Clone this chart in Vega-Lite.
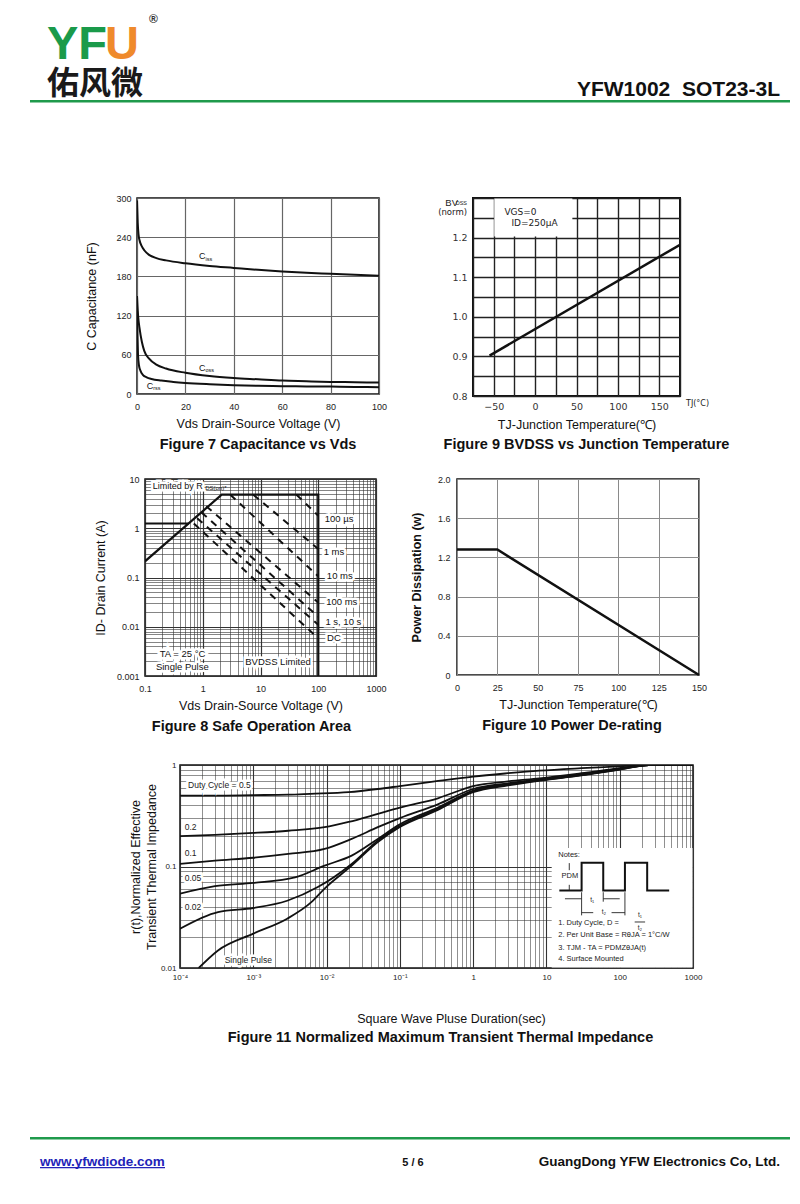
{
"$schema": "https://vega.github.io/schema/vega-lite/v6.json",
"background": "white",
"padding": {"left": 30, "top": 0, "right": 10, "bottom": 30},
"spacing": 0,
"config": {
  "font": "Liberation Sans",
  "view": {"stroke": null},
  "axis": {"ticks": false, "domain": false, "labelFont": "Liberation Sans", "labelColor": "#222", "labelFontSize": 9, "titleFont": "Liberation Sans", "titleFontWeight": "normal", "titleColor": "#111", "titleFontSize": 12.5, "labelFlush": false, "labelOverlap": false, "gridOpacity": 1, "labelBound": false},
  "title": {"font": "Liberation Sans", "color": "#111"}
},
"vconcat": [
  {"hconcat": [
    {"width": 17, "height": 1, "data": {"values": [{}]}, "mark": {"type": "point", "opacity": 0, "size": 0}, "encoding": {}},
    {"width": 58, "height": 22, "data": {"values": [{}]}, "mark": {"type": "point", "opacity": 0, "size": 0}, "encoding": {},
     "title": {"text": "YF", "subtitle": "佑风微", "orient": "bottom", "anchor": "start", "offset": 0, "font": "Liberation Sans Narrow, Liberation Sans", "fontSize": 47, "fontWeight": "bold", "color": "#1a9a4a", "subtitleFont": "Noto Sans CJK SC", "subtitleFontSize": 32, "subtitleFontWeight": "bold", "subtitleColor": "#1a1a1a", "subtitlePadding": 0}},
    {"width": 45, "height": 22, "data": {"values": [{}]}, "mark": {"type": "point", "opacity": 0, "size": 0}, "encoding": {},
     "title": {"text": "U", "orient": "bottom", "anchor": "start", "offset": 0, "font": "Liberation Sans", "fontSize": 47, "fontWeight": "bold", "color": "#ef8a2c"}},
    {"width": 10, "height": 14, "data": {"values": [{}]}, "mark": {"type": "point", "opacity": 0, "size": 0}, "encoding": {},
     "title": {"text": "®", "orient": "bottom", "anchor": "start", "offset": 0, "fontSize": 12, "color": "#333", "dx": -1}},
    {"width": 630, "height": 79, "data": {"values": [{}]}, "mark": {"type": "point", "opacity": 0, "size": 0}, "encoding": {},
     "title": {"text": "YFW1002\u00a0 SOT23-3L", "orient": "bottom", "anchor": "end", "offset": 0, "fontSize": 21, "fontWeight": "bold", "color": "#111", "dx": -10}}
  ], "spacing": 0, "bounds": "flush"},
  {"width": 760, "height": 2.5, "view": {"fill": "#1f9a4c", "stroke": null}, "data": {"values": [{}]}, "mark": {"type": "point", "opacity": 0, "size": 0}, "encoding": {}},
  {"width": 1, "height": 80, "data": {"values": [{}]}, "mark": {"type": "point", "opacity": 0, "size": 0}, "encoding": {}},
  {"hconcat": [
    {"width": 107, "height": 1, "data": {"values": [{}]}, "mark": {"type": "point", "opacity": 0, "size": 0}, "encoding": {}},
    {
      "width": 242, "height": 196,
      "view": {"stroke": "#111", "strokeWidth": 1.5},
      "title": {"text": "Figure 7 Capacitance vs Vds", "orient": "bottom", "frame": "group", "anchor": "middle", "offset": 8, "fontSize": 14.5, "fontWeight": "bold"},
      "encoding": {
        "x": {"field": "v", "type": "quantitative", "scale": {"domain": [0, 100], "nice": false}, "axis": {"values": [0, 20, 40, 60, 80, 100], "grid": true, "gridColor": "#666", "gridWidth": 1.2, "labelPadding": 8, "minExtent": 16, "maxExtent": 16, "title": "Vds Drain-Source Voltage (V)", "titlePadding": 7}},
        "y": {"field": "c", "type": "quantitative", "scale": {"domain": [0, 300], "nice": false}, "axis": {"values": [0, 60, 120, 180, 240, 300], "grid": true, "gridColor": "#666", "gridWidth": 1.2, "labelPadding": 6, "minExtent": 22, "maxExtent": 22, "title": "C Capacitance (nF)", "titlePadding": 17}}
      },
      "layer": [
        {"data": {"values": [{"v": 0, "c": 300, "label": "."}]}, "mark": {"type": "text", "align": "left", "baseline": "bottom", "fontSize": 14, "opacity": 0}, "encoding": {"text": {"field": "label"}}},
        {"data": {"values": [
          {"s": "iss", "v": 0, "c": 296}, {"s": "iss", "v": 0.3, "c": 262}, {"s": "iss", "v": 0.6, "c": 245}, {"s": "iss", "v": 1, "c": 236}, {"s": "iss", "v": 2, "c": 226}, {"s": "iss", "v": 3, "c": 220}, {"s": "iss", "v": 5, "c": 213}, {"s": "iss", "v": 8, "c": 208}, {"s": "iss", "v": 12, "c": 204.5}, {"s": "iss", "v": 20, "c": 200}, {"s": "iss", "v": 30, "c": 196}, {"s": "iss", "v": 40, "c": 193}, {"s": "iss", "v": 50, "c": 190}, {"s": "iss", "v": 60, "c": 187.5}, {"s": "iss", "v": 70, "c": 185.5}, {"s": "iss", "v": 80, "c": 184}, {"s": "iss", "v": 90, "c": 182.5}, {"s": "iss", "v": 100, "c": 181},
          {"s": "oss", "v": 0, "c": 150}, {"s": "oss", "v": 0.3, "c": 128}, {"s": "oss", "v": 0.6, "c": 114}, {"s": "oss", "v": 1, "c": 102}, {"s": "oss", "v": 2, "c": 80}, {"s": "oss", "v": 3, "c": 66}, {"s": "oss", "v": 5, "c": 54}, {"s": "oss", "v": 8, "c": 45}, {"s": "oss", "v": 12, "c": 39}, {"s": "oss", "v": 20, "c": 32.5}, {"s": "oss", "v": 30, "c": 27.5}, {"s": "oss", "v": 40, "c": 24.5}, {"s": "oss", "v": 50, "c": 22.5}, {"s": "oss", "v": 60, "c": 20.5}, {"s": "oss", "v": 70, "c": 19.5}, {"s": "oss", "v": 80, "c": 18.5}, {"s": "oss", "v": 90, "c": 18}, {"s": "oss", "v": 100, "c": 17.5},
          {"s": "rss", "v": 0, "c": 135}, {"s": "rss", "v": 0.2, "c": 90}, {"s": "rss", "v": 0.4, "c": 62}, {"s": "rss", "v": 0.8, "c": 44}, {"s": "rss", "v": 1.5, "c": 35}, {"s": "rss", "v": 2.5, "c": 29}, {"s": "rss", "v": 4, "c": 25.5}, {"s": "rss", "v": 6, "c": 23}, {"s": "rss", "v": 10, "c": 20.5}, {"s": "rss", "v": 15, "c": 18.5}, {"s": "rss", "v": 20, "c": 17}, {"s": "rss", "v": 30, "c": 15}, {"s": "rss", "v": 40, "c": 13.5}, {"s": "rss", "v": 50, "c": 12.5}, {"s": "rss", "v": 60, "c": 12}, {"s": "rss", "v": 70, "c": 11.6}, {"s": "rss", "v": 80, "c": 11.3}, {"s": "rss", "v": 90, "c": 10.8}, {"s": "rss", "v": 100, "c": 10.3}
        ]}, "mark": {"type": "line", "color": "#111", "strokeWidth": 2, "interpolate": "monotone", "clip": true}, "encoding": {"detail": {"field": "s"}}},
        {"data": {"values": [{"v": 25.6, "c": 211, "m": "C", "sub": "iss"}, {"v": 25.6, "c": 40, "m": "C", "sub": "oss"}, {"v": 4, "c": 13, "m": "C", "sub": "rss"}]},
         "mark": {"type": "text", "align": "left", "baseline": "middle", "fontSize": 9, "color": "#111"}, "encoding": {"text": {"field": "m"}}},
        {"data": {"values": [{"v": 25.6, "c": 211, "m": "C", "sub": "iss"}, {"v": 25.6, "c": 40, "m": "C", "sub": "oss"}, {"v": 4, "c": 13, "m": "C", "sub": "rss"}]},
         "mark": {"type": "text", "align": "left", "baseline": "middle", "fontSize": 5.5, "dx": 6.5, "dy": 2.5, "color": "#111"}, "encoding": {"text": {"field": "sub"}}}
      ]
    },
    {"width": 94, "height": 1, "data": {"values": [{}]}, "mark": {"type": "point", "opacity": 0, "size": 0}, "encoding": {}},
    {
      "width": 207, "height": 198,
      "view": {"stroke": "#111", "strokeWidth": 2},
      "title": {"text": "Figure 9 BVDSS vs Junction Temperature", "orient": "bottom", "frame": "group", "anchor": "middle", "offset": 7, "fontSize": 14.5, "fontWeight": "bold", "dx": 10},
      "encoding": {
        "x": {"field": "t", "type": "quantitative", "scale": {"domain": [-75, 175], "nice": false, "zero": false}, "axis": {"values": [-75, -50, -25, 0, 25, 50, 75, 100, 125, 150, 175], "labelExpr": "datum.value % 50 == 0 ? datum.label : ''", "grid": true, "gridColor": "#222", "gridWidth": 1.4, "labelFont": "DejaVu Sans", "labelFontSize": 9.5, "labelColor": "#333", "labelPadding": 5, "minExtent": 16, "maxExtent": 16, "title": "TJ-Junction Temperature(℃)", "titlePadding": 6}},
        "y": {"field": "b", "type": "quantitative", "scale": {"domain": [0.8, 1.3], "nice": false, "zero": false}, "axis": {"values": [0.8, 0.85, 0.9, 0.95, 1.0, 1.05, 1.1, 1.15, 1.2, 1.25, 1.3], "labelExpr": "(datum.value < 1.25 && abs(datum.value*10 - round(datum.value*10)) < 0.001) ? format(datum.value, '.1f') : ''", "grid": true, "gridColor": "#222", "gridWidth": 1.4, "labelFont": "DejaVu Sans", "labelFontSize": 9.5, "labelColor": "#333", "labelPadding": 6, "minExtent": 22, "maxExtent": 22, "title": null}}
      },
      "layer": [
        {"data": {"values": [{"t": -75, "b": 1.3, "label": "."}]}, "mark": {"type": "text", "align": "left", "baseline": "bottom", "fontSize": 10, "opacity": 0}, "encoding": {"text": {"field": "label"}}},
        {"data": {"values": [{"t": -49.3, "t2": 45, "b": 1.2025, "b2": 1.2985}]}, "mark": {"type": "rect", "color": "white"}, "encoding": {"x2": {"field": "t2"}, "y2": {"field": "b2"}}},
        {"data": {"values": [{"t": -55, "b": 0.902}, {"t": 175, "b": 1.182}]}, "mark": {"type": "line", "color": "#111", "strokeWidth": 2.5, "clip": true}, "encoding": {}},
        {"data": {"values": [{"t": -37, "b": 1.265, "label": "VGS=0"}, {"t": -28.6, "b": 1.2375, "label": "ID=250μA"}]}, "mark": {"type": "text", "align": "left", "baseline": "middle", "font": "DejaVu Sans", "fontSize": 9, "color": "#222"}, "encoding": {"text": {"field": "label"}}},
        {"data": {"values": [{"t": -75, "b": 1.3, "label": "BV"}]}, "mark": {"type": "text", "align": "right", "baseline": "top", "dx": -15, "dy": 0, "fontSize": 9.5, "color": "#222"}, "encoding": {"text": {"field": "label"}}},
        {"data": {"values": [{"t": -75, "b": 1.3, "label": "DSS"}]}, "mark": {"type": "text", "align": "right", "baseline": "top", "dx": -6, "dy": 3, "fontSize": 5.5, "color": "#222"}, "encoding": {"text": {"field": "label"}}},
        {"data": {"values": [{"t": -75, "b": 1.3, "label": "(norm)"}]}, "mark": {"type": "text", "align": "right", "baseline": "middle", "dx": -6, "dy": 14, "font": "DejaVu Sans", "fontSize": 8.5, "color": "#222"}, "encoding": {"text": {"field": "label"}}},
        {"data": {"values": [{"t": 175, "b": 0.8, "label": "TJ(°C)"}]}, "mark": {"type": "text", "align": "left", "baseline": "middle", "dx": 6, "dy": 8, "font": "DejaVu Sans", "fontSize": 8, "color": "#222"}, "encoding": {"text": {"field": "label"}}}
      ]
    }
  ], "spacing": 0, "bounds": "flush"},
  {"width": 1, "height": 16, "data": {"values": [{}]}, "mark": {"type": "point", "opacity": 0, "size": 0}, "encoding": {}},
  {"hconcat": [
    {"width": 115, "height": 1, "data": {"values": [{}]}, "mark": {"type": "point", "opacity": 0, "size": 0}, "encoding": {}},
    {
      "width": 231, "height": 197,
      "view": {"stroke": "#111", "strokeWidth": 1.5},
      "title": {"text": "Figure 8 Safe Operation Area", "orient": "bottom", "frame": "group", "anchor": "middle", "offset": 8, "fontSize": 14.5, "fontWeight": "bold", "dx": -9},
      "encoding": {
        "x": {"field": "v", "type": "quantitative", "scale": {"type": "log", "domain": [0.1, 1000], "nice": false}, "axis": {"values": [0.1, 0.2, 0.3, 0.4, 0.5, 0.6, 0.7, 0.8, 0.9, 1, 2, 3, 4, 5, 6, 7, 8, 9, 10, 20, 30, 40, 50, 60, 70, 80, 90, 100, 200, 300, 400, 500, 600, 700, 800, 900, 1000], "labelExpr": "abs(log(datum.value)/LN10 - round(log(datum.value)/LN10)) < 0.01 ? (datum.value < 0.5 ? '0.1' : datum.value < 5 ? '1' : datum.value < 50 ? '10' : datum.value < 500 ? '100' : '1000') : ''", "grid": true, "gridColor": "#333", "gridWidth": {"condition": {"test": "abs(log(datum.value)/LN10 - round(log(datum.value)/LN10)) < 0.01", "value": 1.2}, "value": 0.6}, "labelPadding": 8, "minExtent": 16, "maxExtent": 16, "title": "Vds Drain-Source Voltage (V)", "titlePadding": 7}},
        "y": {"field": "i", "type": "quantitative", "scale": {"type": "log", "domain": [0.001, 10], "nice": false}, "axis": {"values": [0.001, 0.002, 0.003, 0.004, 0.005, 0.006, 0.007, 0.008, 0.009, 0.01, 0.02, 0.03, 0.04, 0.05, 0.06, 0.07, 0.08, 0.09, 0.1, 0.2, 0.3, 0.4, 0.5, 0.6, 0.7, 0.8, 0.9, 1, 2, 3, 4, 5, 6, 7, 8, 9, 10], "labelExpr": "abs(log(datum.value)/LN10 - round(log(datum.value)/LN10)) < 0.01 ? (datum.value < 0.005 ? '0.001' : datum.value < 0.05 ? '0.01' : datum.value < 0.5 ? '0.1' : datum.value < 5 ? '1' : '10') : ''", "grid": true, "gridColor": "#333", "gridWidth": {"condition": {"test": "abs(log(datum.value)/LN10 - round(log(datum.value)/LN10)) < 0.01", "value": 1.2}, "value": 0.6}, "labelPadding": 6, "minExtent": 30, "maxExtent": 30, "title": "ID- Drain Current (A)", "titlePadding": 7.4}}
      },
      "layer": [
        {"data": {"values": [{"v": 0.1, "i": 10, "label": "."}]}, "mark": {"type": "text", "align": "left", "baseline": "bottom", "fontSize": 10, "opacity": 0}, "encoding": {"text": {"field": "label"}}},
        {"data": {"values": [{"s": "a", "o": 1, "v": 0.1, "i": 0.213}, {"s": "a", "o": 2, "v": 2.13, "i": 4.8}, {"s": "a", "o": 3, "v": 100, "i": 4.8}, {"s": "a", "o": 4, "v": 100, "i": 0.001}, {"s": "b", "o": 1, "v": 0.1, "i": 1.25}, {"s": "b", "o": 2, "v": 0.57, "i": 1.25}]},
         "mark": {"type": "line", "color": "#111", "strokeWidth": 2.2, "clip": true}, "encoding": {"detail": {"field": "s"}, "order": {"field": "o", "type": "quantitative"}}},
        {"data": {"values": [{"s": "d1", "v": 42, "i": 4.8}, {"s": "d1", "v": 100, "i": 1.8}, {"s": "d2", "v": 7.5, "i": 4.8}, {"s": "d2", "v": 100, "i": 0.38}, {"s": "d3", "v": 3.0, "i": 4.8}, {"s": "d3", "v": 100, "i": 0.106}, {"s": "d4", "v": 1.15, "i": 2.8}, {"s": "d4", "v": 100, "i": 0.031}, {"s": "d5", "v": 0.95, "i": 2.1}, {"s": "d5", "v": 100, "i": 0.016}, {"s": "d6", "v": 0.8, "i": 1.6}, {"s": "d6", "v": 100, "i": 0.011}, {"s": "d7", "v": 0.7, "i": 1.25}, {"s": "d7", "v": 100, "i": 0.0058}]},
         "mark": {"type": "line", "color": "#111", "strokeWidth": 2, "strokeDash": [7, 6], "clip": true}, "encoding": {"detail": {"field": "s"}}},
        {"data": {"name": "soaLabels", "values": [{"v": 229, "i": 1.54, "label": "100 µs"}, {"v": 187, "i": 0.325, "label": "1 ms"}, {"v": 236, "i": 0.106, "label": "10 ms"}, {"v": 255, "i": 0.0313, "label": "100 ms"}, {"v": 272, "i": 0.0127, "label": "1 s, 10 s"}, {"v": 187, "i": 0.0058, "label": "DC"}, {"v": 0.446, "i": 0.00279, "label": "TA = 25 °C"}, {"v": 0.443, "i": 0.0015, "label": "Single Pulse"}, {"v": 20.1, "i": 0.00189, "label": "BVDSS Limited"}]},
         "mark": {"type": "text", "align": "center", "baseline": "middle", "fontSize": 9.5, "color": "white", "stroke": "white", "strokeWidth": 5}, "encoding": {"text": {"field": "label"}}},
        {"data": {"name": "soaLabels"}, "mark": {"type": "text", "align": "center", "baseline": "middle", "fontSize": 9.5, "color": "#111"}, "encoding": {"text": {"field": "label"}}},
        {"data": {"values": [{"v": 0.136, "i": 7.3, "label": "Limited by R"}]}, "mark": {"type": "text", "align": "left", "baseline": "middle", "fontSize": 9, "color": "white", "stroke": "white", "strokeWidth": 5}, "encoding": {"text": {"field": "label"}}},
        {"data": {"values": [{"v": 0.136, "i": 7.3, "label": "Limited by R"}]}, "mark": {"type": "text", "align": "left", "baseline": "middle", "fontSize": 9, "color": "#111"}, "encoding": {"text": {"field": "label"}}},
        {"data": {"values": [{"v": 1.1, "i": 6.6, "label": "DS(on)*"}]}, "mark": {"type": "text", "align": "left", "baseline": "middle", "fontSize": 6, "color": "#111"}, "encoding": {"text": {"field": "label"}}}
      ]
    },
    {"width": 81, "height": 1, "data": {"values": [{}]}, "mark": {"type": "point", "opacity": 0, "size": 0}, "encoding": {}},
    {
      "width": 242, "height": 196,
      "view": {"stroke": "#111", "strokeWidth": 1.5},
      "title": {"text": "Figure 10 Power De-rating", "orient": "bottom", "frame": "group", "anchor": "middle", "offset": 8, "fontSize": 14.5, "fontWeight": "bold", "dx": -6},
      "encoding": {
        "x": {"field": "t", "type": "quantitative", "scale": {"domain": [0, 150], "nice": false}, "axis": {"values": [0, 25, 50, 75, 100, 125, 150], "grid": true, "gridColor": "#8a8a8a", "gridWidth": 1, "labelPadding": 8, "minExtent": 16, "maxExtent": 16, "title": "TJ-Junction Temperature(℃)", "titlePadding": 7}},
        "y": {"field": "p", "type": "quantitative", "scale": {"domain": [0, 2], "nice": false}, "axis": {"values": [0, 0.4, 0.8, 1.2, 1.6, 2], "labelExpr": "datum.value == 0 ? '0' : format(datum.value, '.1f')", "grid": true, "gridColor": "#8a8a8a", "gridWidth": 1, "labelPadding": 7, "minExtent": 22, "maxExtent": 22, "title": "Power Dissipation (w)", "titleFontWeight": "bold", "titlePadding": 11.4}}
      },
      "layer": [
        {"data": {"values": [{"t": 0, "p": 2, "label": "."}]}, "mark": {"type": "text", "align": "left", "baseline": "bottom", "fontSize": 10, "opacity": 0}, "encoding": {"text": {"field": "label"}}},
        {"data": {"values": [{"t": 0, "p": 1.28}, {"t": 25, "p": 1.28}, {"t": 150, "p": 0}]}, "mark": {"type": "line", "color": "#111", "strokeWidth": 2.5}, "encoding": {}}
      ]
    }
  ], "spacing": 0, "bounds": "flush"},
  {"width": 1, "height": 19.7, "data": {"values": [{}]}, "mark": {"type": "point", "opacity": 0, "size": 0}, "encoding": {}},
  {"hconcat": [
    {"width": 150, "height": 1, "data": {"values": [{}]}, "mark": {"type": "point", "opacity": 0, "size": 0}, "encoding": {}},
    {
      "width": 513, "height": 203,
      "view": {"stroke": "#111", "strokeWidth": 1.5},
      "title": {"text": "Figure 11 Normalized Maximum Transient Thermal Impedance", "orient": "bottom", "frame": "group", "anchor": "middle", "offset": 6, "fontSize": 14.5, "fontWeight": "bold", "dx": 4},
      "encoding": {
        "x": {"field": "t", "type": "quantitative", "scale": {"type": "log", "domain": [0.0001, 1000], "nice": false}, "axis": {"values": [0.0001, 0.0002, 0.0003, 0.0004, 0.0005, 0.0006, 0.0007, 0.0008, 0.0009, 0.001, 0.002, 0.003, 0.004, 0.005, 0.006, 0.007, 0.008, 0.009, 0.01, 0.02, 0.03, 0.04, 0.05, 0.06, 0.07, 0.08, 0.09, 0.1, 0.2, 0.3, 0.4, 0.5, 0.6, 0.7, 0.8, 0.9, 1, 2, 3, 4, 5, 6, 7, 8, 9, 10, 20, 30, 40, 50, 60, 70, 80, 90, 100, 200, 300, 400, 500, 600, 700, 800, 900, 1000], "labelExpr": "abs(log(datum.value)/LN10 - round(log(datum.value)/LN10)) < 0.01 ? (datum.value < 0.0005 ? '10⁻⁴' : datum.value < 0.005 ? '10⁻³' : datum.value < 0.05 ? '10⁻²' : datum.value < 0.5 ? '10⁻¹' : datum.value < 5 ? '1' : datum.value < 50 ? '10' : datum.value < 500 ? '100' : '1000') : ''", "grid": true, "gridColor": "#333", "gridWidth": {"condition": {"test": "abs(log(datum.value)/LN10 - round(log(datum.value)/LN10)) < 0.01", "value": 1.1}, "value": 0.55}, "labelFontSize": 8, "labelPadding": 5, "minExtent": 16, "maxExtent": 16, "title": "Square Wave Pluse Duration(sec)", "titlePadding": 28, "titleX": 271}},
        "y": {"field": "r", "type": "quantitative", "scale": {"type": "log", "domain": [0.01, 1], "nice": false}, "axis": {"values": [0.01, 0.02, 0.03, 0.04, 0.05, 0.06, 0.07, 0.08, 0.09, 0.1, 0.2, 0.3, 0.4, 0.5, 0.6, 0.7, 0.8, 0.9, 1], "labelExpr": "abs(log(datum.value)/LN10 - round(log(datum.value)/LN10)) < 0.01 ? (datum.value < 0.05 ? '0.01' : datum.value < 0.5 ? '0.1' : '1') : ''", "grid": true, "gridColor": "#333", "gridWidth": {"condition": {"test": "abs(log(datum.value)/LN10 - round(log(datum.value)/LN10)) < 0.01", "value": 1.1}, "value": 0.55}, "labelFontSize": 8, "labelPadding": 4, "minExtent": 20, "maxExtent": 20, "title": ["r(t),Normalized Effective", "Transient Thermal Impedance"], "titleLineHeight": 16, "titlePadding": 2}}
      },
      "layer": [
        {"data": {"values": [{"t": 0.0001, "r": 1, "label": "."}]}, "mark": {"type": "text", "align": "left", "baseline": "bottom", "fontSize": 10, "opacity": 0}, "encoding": {"text": {"field": "label"}}},
        {"data": {"values": [
          {"s": "d5", "t": 0.0001, "r": 0.5}, {"s": "d5", "t": 0.0003, "r": 0.5}, {"s": "d5", "t": 0.001, "r": 0.505}, {"s": "d5", "t": 0.003, "r": 0.51}, {"s": "d5", "t": 0.006, "r": 0.52}, {"s": "d5", "t": 0.02, "r": 0.54}, {"s": "d5", "t": 0.05, "r": 0.58}, {"s": "d5", "t": 0.1, "r": 0.62}, {"s": "d5", "t": 0.3, "r": 0.69}, {"s": "d5", "t": 1, "r": 0.77}, {"s": "d5", "t": 3, "r": 0.83}, {"s": "d5", "t": 8, "r": 0.88}, {"s": "d5", "t": 30, "r": 0.93}, {"s": "d5", "t": 100, "r": 0.97}, {"s": "d5", "t": 200, "r": 1.0}, {"s": "d5", "t": 1000, "r": 1.0},
          {"s": "d2", "t": 0.0001, "r": 0.199}, {"s": "d2", "t": 0.0003, "r": 0.205}, {"s": "d2", "t": 0.001, "r": 0.214}, {"s": "d2", "t": 0.003, "r": 0.225}, {"s": "d2", "t": 0.0094, "r": 0.244}, {"s": "d2", "t": 0.02, "r": 0.275}, {"s": "d2", "t": 0.05, "r": 0.33}, {"s": "d2", "t": 0.1, "r": 0.38}, {"s": "d2", "t": 0.33, "r": 0.47}, {"s": "d2", "t": 1, "r": 0.62}, {"s": "d2", "t": 3, "r": 0.69}, {"s": "d2", "t": 8, "r": 0.74}, {"s": "d2", "t": 30, "r": 0.83}, {"s": "d2", "t": 100, "r": 0.93}, {"s": "d2", "t": 250, "r": 1.0}, {"s": "d2", "t": 1000, "r": 1.0},
          {"s": "d1", "t": 0.0001, "r": 0.106}, {"s": "d1", "t": 0.0003, "r": 0.114}, {"s": "d1", "t": 0.001, "r": 0.122}, {"s": "d1", "t": 0.003, "r": 0.133}, {"s": "d1", "t": 0.0094, "r": 0.149}, {"s": "d1", "t": 0.022, "r": 0.187}, {"s": "d1", "t": 0.05, "r": 0.244}, {"s": "d1", "t": 0.1, "r": 0.3}, {"s": "d1", "t": 0.33, "r": 0.41}, {"s": "d1", "t": 1, "r": 0.58}, {"s": "d1", "t": 3, "r": 0.66}, {"s": "d1", "t": 8, "r": 0.72}, {"s": "d1", "t": 30, "r": 0.81}, {"s": "d1", "t": 100, "r": 0.92}, {"s": "d1", "t": 250, "r": 1.0}, {"s": "d1", "t": 1000, "r": 1.0},
          {"s": "d05", "t": 0.0001, "r": 0.054}, {"s": "d05", "t": 0.0003, "r": 0.064}, {"s": "d05", "t": 0.001, "r": 0.069}, {"s": "d05", "t": 0.0037, "r": 0.078}, {"s": "d05", "t": 0.0094, "r": 0.102}, {"s": "d05", "t": 0.022, "r": 0.128}, {"s": "d05", "t": 0.05, "r": 0.187}, {"s": "d05", "t": 0.1, "r": 0.26}, {"s": "d05", "t": 0.33, "r": 0.38}, {"s": "d05", "t": 1, "r": 0.56}, {"s": "d05", "t": 3, "r": 0.65}, {"s": "d05", "t": 8, "r": 0.71}, {"s": "d05", "t": 30, "r": 0.8}, {"s": "d05", "t": 100, "r": 0.91}, {"s": "d05", "t": 250, "r": 1.0}, {"s": "d05", "t": 1000, "r": 1.0},
          {"s": "d02", "t": 0.0001, "r": 0.0244}, {"s": "d02", "t": 0.00033, "r": 0.0356}, {"s": "d02", "t": 0.001, "r": 0.039}, {"s": "d02", "t": 0.0029, "r": 0.046}, {"s": "d02", "t": 0.0076, "r": 0.0627}, {"s": "d02", "t": 0.022, "r": 0.106}, {"s": "d02", "t": 0.05, "r": 0.18}, {"s": "d02", "t": 0.1, "r": 0.25}, {"s": "d02", "t": 0.33, "r": 0.37}, {"s": "d02", "t": 1, "r": 0.55}, {"s": "d02", "t": 3, "r": 0.64}, {"s": "d02", "t": 8, "r": 0.705}, {"s": "d02", "t": 30, "r": 0.795}, {"s": "d02", "t": 100, "r": 0.905}, {"s": "d02", "t": 250, "r": 1.0}, {"s": "d02", "t": 1000, "r": 1.0},
          {"s": "sp", "t": 0.00018, "r": 0.01}, {"s": "sp", "t": 0.00033, "r": 0.0149}, {"s": "sp", "t": 0.001, "r": 0.0218}, {"s": "sp", "t": 0.0029, "r": 0.0306}, {"s": "sp", "t": 0.0062, "r": 0.0445}, {"s": "sp", "t": 0.0094, "r": 0.0606}, {"s": "sp", "t": 0.022, "r": 0.102}, {"s": "sp", "t": 0.05, "r": 0.174}, {"s": "sp", "t": 0.1, "r": 0.245}, {"s": "sp", "t": 0.33, "r": 0.36}, {"s": "sp", "t": 1, "r": 0.54}, {"s": "sp", "t": 3, "r": 0.63}, {"s": "sp", "t": 8, "r": 0.7}, {"s": "sp", "t": 30, "r": 0.79}, {"s": "sp", "t": 100, "r": 0.9}, {"s": "sp", "t": 250, "r": 1.0}, {"s": "sp", "t": 1000, "r": 1.0}
        ]}, "mark": {"type": "line", "color": "#111", "strokeWidth": 1.8, "interpolate": "monotone", "clip": true}, "encoding": {"detail": {"field": "s"}}},
        {"data": {"values": [{"t": 11.8, "t2": 985, "r": 0.152, "r2": 0.0101}]}, "mark": {"type": "rect", "color": "white"}, "encoding": {"x2": {"field": "t2"}, "y2": {"field": "r2"}}},
        {"data": {"name": "zLabels", "values": [{"t": 0.000129, "r": 0.636, "label": "Duty Cycle = 0.5"}, {"t": 0.000116, "r": 0.244, "label": "0.2"}, {"t": 0.000116, "r": 0.135, "label": "0.1"}, {"t": 0.000116, "r": 0.077, "label": "0.05"}, {"t": 0.000116, "r": 0.04, "label": "0.02"}, {"t": 0.000407, "r": 0.012, "label": "Single Pulse"}]},
         "mark": {"type": "text", "align": "left", "baseline": "middle", "fontSize": 8.5, "color": "white", "stroke": "white", "strokeWidth": 5}, "encoding": {"text": {"field": "label"}}},
        {"data": {"name": "zLabels"}, "mark": {"type": "text", "align": "left", "baseline": "middle", "fontSize": 8.5, "color": "#222"}, "encoding": {"text": {"field": "label"}}},
        {"data": {"values": [{"t": 14.5, "r": 0.13, "label": "Notes:"}, {"t": 14.5, "r": 0.02795, "label": "1. Duty Cycle, D ="}, {"t": 14.5, "r": 0.021, "label": "2. Per Unit Base = RθJA = 1°C/W"}, {"t": 14.5, "r": 0.01587, "label": "3. TJM - TA = PDMZθJA(t)"}, {"t": 14.5, "r": 0.01238, "label": "4. Surface Mounted"}, {"t": 16.1, "r": 0.0805, "label": "PDM"}]},
         "mark": {"type": "text", "align": "left", "baseline": "middle", "fontSize": 7.5, "color": "#222"}, "encoding": {"text": {"field": "label"}}},
        {"data": {"values": [{"t": 42.2, "r": 0.0463, "label": "t₁"}, {"t": 61, "r": 0.0355, "label": "t₂"}, {"t": 189, "r": 0.0335, "label": "t₁"}, {"t": 189, "r": 0.025, "label": "t₂"}]},
         "mark": {"type": "text", "align": "center", "baseline": "middle", "fontSize": 6.5, "color": "#222"}, "encoding": {"text": {"field": "label"}}},
        {"data": {"values": [{"s": "p", "o": 1, "t": 15, "r": 0.0581}, {"s": "p", "o": 2, "t": 30.2, "r": 0.0581}, {"s": "p", "o": 3, "t": 30.2, "r": 0.1088}, {"s": "p", "o": 4, "t": 59.6, "r": 0.1088}, {"s": "p", "o": 5, "t": 59.6, "r": 0.0581}, {"s": "p", "o": 6, "t": 117.8, "r": 0.0581}, {"s": "p", "o": 7, "t": 117.8, "r": 0.1088}, {"s": "p", "o": 8, "t": 237, "r": 0.1088}, {"s": "p", "o": 9, "t": 237, "r": 0.0581}, {"s": "p", "o": 10, "t": 473, "r": 0.0581}]},
         "mark": {"type": "line", "color": "#111", "strokeWidth": 2}, "encoding": {"detail": {"field": "s"}, "order": {"field": "o", "type": "quantitative"}}},
        {"data": {"values": [
          {"s": "a1", "o": 1, "t": 17.9, "r": 0.0481}, {"s": "a1", "o": 2, "t": 30.2, "r": 0.0481},
          {"s": "a2", "o": 1, "t": 59.6, "r": 0.0481}, {"s": "a2", "o": 2, "t": 100, "r": 0.0481},
          {"s": "b1", "o": 1, "t": 30.2, "r": 0.0351}, {"s": "b1", "o": 2, "t": 43.5, "r": 0.0351},
          {"s": "b2", "o": 1, "t": 77.4, "r": 0.0351}, {"s": "b2", "o": 2, "t": 117.8, "r": 0.0351},
          {"s": "v1", "o": 1, "t": 30.2, "r": 0.0558}, {"s": "v1", "o": 2, "t": 30.2, "r": 0.033},
          {"s": "v2", "o": 1, "t": 59.6, "r": 0.0558}, {"s": "v2", "o": 2, "t": 59.6, "r": 0.045},
          {"s": "v3", "o": 1, "t": 117.8, "r": 0.0558}, {"s": "v3", "o": 2, "t": 117.8, "r": 0.033},
          {"s": "pa", "o": 1, "t": 20.5, "r": 0.108}, {"s": "pa", "o": 2, "t": 20.5, "r": 0.092},
          {"s": "pb", "o": 1, "t": 20.5, "r": 0.066}, {"s": "pb", "o": 2, "t": 20.5, "r": 0.0581},
          {"s": "fr", "o": 1, "t": 160, "r": 0.0284}, {"s": "fr", "o": 2, "t": 222, "r": 0.0284}
        ]}, "mark": {"type": "line", "color": "#222", "strokeWidth": 0.9}, "encoding": {"detail": {"field": "s"}, "order": {"field": "o", "type": "quantitative"}}}
      ]
    }
  ], "spacing": 0, "bounds": "flush"},
  {"width": 1, "height": 91.5, "data": {"values": [{}]}, "mark": {"type": "point", "opacity": 0, "size": 0}, "encoding": {}},
  {"width": 760, "height": 2.5, "view": {"fill": "#1f9a4c", "stroke": null}, "data": {"values": [{}]}, "mark": {"type": "point", "opacity": 0, "size": 0}, "encoding": {}},
  {"width": 1, "height": 14, "data": {"values": [{}]}, "mark": {"type": "point", "opacity": 0, "size": 0}, "encoding": {}},
  {"hconcat": [
    {"width": 10, "height": 1.3, "data": {"values": [{}]}, "mark": {"type": "point", "opacity": 0, "size": 0}, "encoding": {}},
    {"width": 125, "height": 1.3, "view": {"fill": "#2323b8", "stroke": null}, "data": {"values": [{}]}, "mark": {"type": "point", "opacity": 0, "size": 0}, "encoding": {},
     "title": {"text": "www.yfwdiode.com", "orient": "top", "anchor": "start", "offset": -1, "fontSize": 13.5, "fontWeight": "bold", "color": "#2323b8"}},
    {"width": 496, "height": 1.3, "data": {"values": [{}]}, "mark": {"type": "point", "opacity": 0, "size": 0}, "encoding": {},
     "title": {"text": "5 / 6", "orient": "top", "anchor": "middle", "offset": -1, "fontSize": 11, "fontWeight": "bold", "color": "#111"}},
    {"width": 119, "height": 1.3, "data": {"values": [{}]}, "mark": {"type": "point", "opacity": 0, "size": 0}, "encoding": {},
     "title": {"text": "GuangDong YFW Electronics Co, Ltd.", "orient": "top", "anchor": "end", "offset": -1, "fontSize": 13.5, "fontWeight": "bold", "color": "#111"}}
  ], "spacing": 0, "bounds": "flush"}
]
}
